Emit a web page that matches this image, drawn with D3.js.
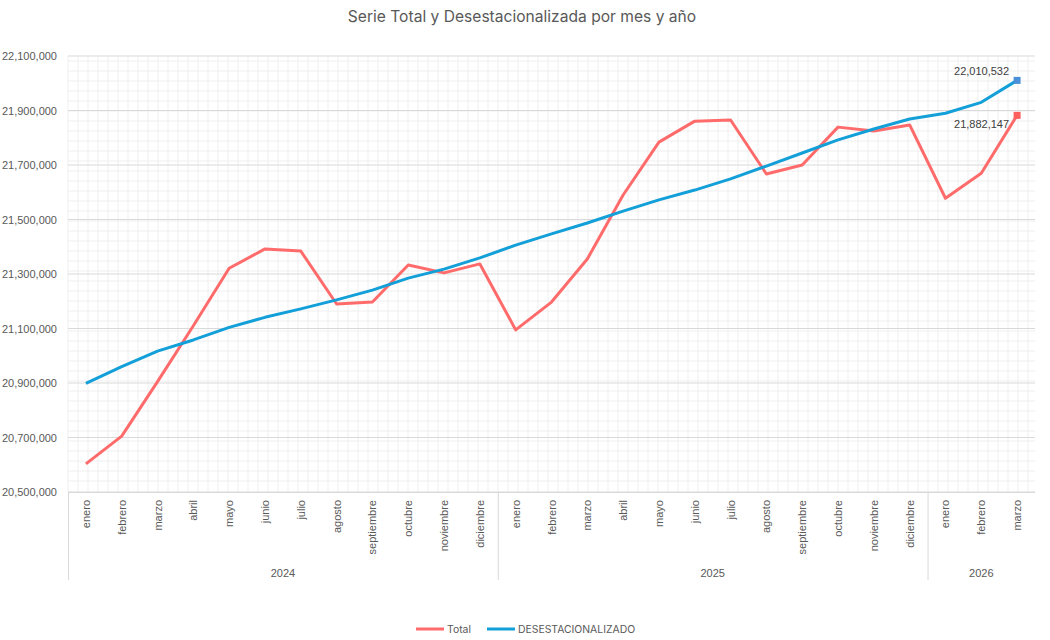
<!DOCTYPE html>
<html>
<head>
<meta charset="utf-8">
<script src="https://cdn.jsdelivr.net/npm/d3@7"></script>
<style>
  body { margin: 0; background: #fff; }
  svg { display: block; }
  .axis text { font-family: "Liberation Sans", Arial, sans-serif; font-size: 11px; fill: #595959; }
</style>
</head>
<body>
<svg width="1050" height="640"></svg>
<script>
// data
const monthNames = ["enero", "febrero", "marzo", "abril", "mayo", "junio", "julio",
    "agosto", "septiembre", "octubre", "noviembre", "diciembre"];
const years = ["2024", "2025", "2026"];
const monthsPerYear = [12, 12, 3];

const total = [
    20603000, 20705000, 20905000, 21110000, 21321000, 21392000, 21384000, 21190000,
    21197000, 21333000, 21304000, 21337000,
    21095000, 21197000, 21355000, 21590000, 21784000, 21861000, 21865000, 21667000,
    21700000, 21839000, 21825000, 21847000,
    21578000, 21670000, 21882147
];
const desest = [
    20899000, 20960000, 21017000, 21058000, 21104000, 21141000, 21172000, 21205000,
    21241000, 21285000, 21318000, 21359000,
    21406000, 21447000, 21487000, 21531000, 21572000, 21608000, 21649000, 21696000,
    21744000, 21792000, 21832000, 21869000,
    21890000, 21930000, 22010532
];
const yTicks = d3.range(20500000, 22100001, 200000);

// build category list: one entry per month
const periods = [];
years.forEach((y, i) => {
    for (let m = 0; m < monthsPerYear[i]; m++) {
        periods.push({ key: y + "-" + m, year: y, month: monthNames[m] });
    }
});

const svg = d3.select("svg");
const margin = { top: 56, right: 15, bottom: 148, left: 68 };
const width = 1050, height = 640;
const plotW = width - margin.left - margin.right;
const plotH = height - margin.top - margin.bottom;

const x = d3.scaleBand()
    .domain(periods.map(d => d.key))
    .range([margin.left, margin.left + plotW])
    .padding(0);
const cx = k => x(k) + x.bandwidth() / 2;

const y = d3.scaleLinear()
    .domain([20500000, 22100000])
    .range([margin.top + plotH, margin.top]);

const fmt = d3.format(",");

// title
svg.append("text")
    .attr("x", 522)
    .attr("y", 22)
    .attr("text-anchor", "middle")
    .style("font-family", "Inter, 'Noto Sans', sans-serif")
    .style("font-size", "15.6px")
    .style("fill", "#595959")
    .text("Serie Total y Desestacionalizada por mes y año");

// minor grid (fine 10px lattice)
const grid = svg.append("g");
const x0 = margin.left, x1 = margin.left + plotW;
const yTop = margin.top, yBot = margin.top + plotH;
d3.range(x0 + 10, x1, 10).forEach(px => {
    grid.append("line")
        .attr("x1", px).attr("x2", px).attr("y1", yTop).attr("y2", yBot)
        .attr("stroke", "#efefef").attr("stroke-width", 1);
});
d3.range(yBot - 11, yTop, -10).forEach(py => {
    grid.append("line")
        .attr("x1", x0).attr("x2", x1).attr("y1", py).attr("y2", py)
        .attr("stroke", "#efefef").attr("stroke-width", 1);
});
grid.append("line")
    .attr("x1", x0).attr("x2", x0).attr("y1", yTop).attr("y2", yBot)
    .attr("stroke", "#efefef");

// major grid
svg.append("g")
    .selectAll("line")
    .data(yTicks)
    .enter().append("line")
    .attr("x1", x0).attr("x2", x1)
    .attr("y1", d => y(d)).attr("y2", d => y(d))
    .attr("stroke", "#d9d9d9").attr("stroke-width", 1);

// y axis labels
const yAxis = svg.append("g")
    .attr("class", "axis")
    .attr("transform", `translate(${margin.left},0)`)
    .call(d3.axisLeft(y).tickValues(yTicks).tickFormat(fmt).tickSize(0).tickPadding(11));
yAxis.select(".domain").remove();

// x axis: bottom line, month labels, year groups
const xg = svg.append("g").attr("class", "axis");
xg.append("line")
    .attr("x1", x0).attr("x2", x1).attr("y1", yBot + 0.5).attr("y2", yBot + 0.5)
    .attr("stroke", "#d9d9d9");

xg.selectAll(".month")
    .data(periods)
    .enter().append("text")
    .attr("class", "month")
    .attr("transform", d => `translate(${cx(d.key) + 4},${yBot + 8}) rotate(-90)`)
    .attr("text-anchor", "end")
    .text(d => d.month);

let start = 0;
years.forEach((yr, i) => {
    const first = periods[start].key;
    const last = periods[start + monthsPerYear[i] - 1].key;
    const left = x(first), right = x(last) + x.bandwidth();
    xg.append("line")
        .attr("x1", left + 0.5).attr("x2", left + 0.5)
        .attr("y1", yBot).attr("y2", yBot + 88)
        .attr("stroke", "#d9d9d9");
    xg.append("text")
        .attr("x", (left + right) / 2)
        .attr("y", yBot + 85)
        .attr("text-anchor", "middle")
        .text(yr);
    start += monthsPerYear[i];
});

// lines
const line = d3.line()
    .x((d, i) => cx(periods[i].key))
    .y(d => y(d));

svg.append("path")
    .datum(total)
    .attr("fill", "none")
    .attr("stroke", "#ff6b6b")
    .attr("stroke-width", 3)
    .attr("stroke-linejoin", "round")
    .attr("d", line);

svg.append("path")
    .datum(desest)
    .attr("fill", "none")
    .attr("stroke", "#139fd8")
    .attr("stroke-width", 3)
    .attr("stroke-linejoin", "round")
    .attr("d", line);

// end markers and labels
const lastIdx = periods.length - 1;
const lastX = cx(periods[lastIdx].key);
[
    { v: desest[lastIdx], fill: "#4a90d9", dy: -5 },
    { v: total[lastIdx], fill: "#ff5f5f", dy: 13 }
].forEach(m => {
    svg.append("rect")
        .attr("x", lastX - 3.5).attr("y", y(m.v) - 3.5)
        .attr("width", 7).attr("height", 7)
        .attr("fill", m.fill);
    svg.append("text")
        .attr("x", lastX - 8)
        .attr("y", y(m.v) + m.dy)
        .attr("text-anchor", "end")
        .style("font-family", "'Liberation Sans', Arial, sans-serif")
        .style("font-size", "11px")
        .style("fill", "#404040")
        .text(fmt(m.v));
});

// legend
const legend = svg.append("g")
    .style("font-family", "Inter, 'Noto Sans', sans-serif")
    .style("font-size", "10.4px")
    .style("fill", "#595959");
const legendItems = [
    { name: "Total", color: "#ff6b6b", x: 416 },
    { name: "DESESTACIONALIZADO", color: "#139fd8", x: 487 }
];
legendItems.forEach(it => {
    legend.append("line")
        .attr("x1", it.x).attr("x2", it.x + 28)
        .attr("y1", 629).attr("y2", 629)
        .attr("stroke", it.color).attr("stroke-width", 3);
    legend.append("text")
        .attr("x", it.x + 31)
        .attr("y", 633)
        .text(it.name);
});
</script>
</body>
</html>
